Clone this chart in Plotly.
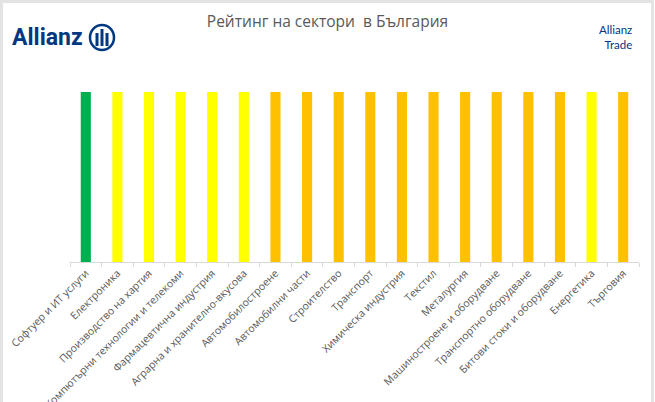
import plotly.graph_objects as go

# Sector names and their risk ratings
sectors = [
    "Софтуер и ИТ услуги",
    "Електроника",
    "Производство на хартия",
    "Компютърни технологии и телекоми",
    "Фармацевтична индустрия",
    "Аграрна и хранително-вкусова",
    "Автомобилостроене",
    "Автомобилни части",
    "Строителство",
    "Транспорт",
    "Химическа индустрия",
    "Текстил",
    "Металургия",
    "Машиностроене и оборудване",
    "Транспортно оборудване",
    "Битови стоки и оборудване",
    "Енергетика",
    "Търговия",
]
ratings = [
    "low", "medium", "medium", "medium", "medium", "medium",
    "high", "high", "high", "high", "high", "high",
    "high", "high", "high", "high", "medium", "high",
]
bar_values = [1] * len(sectors)

rating_colors = {"low": "#00B050", "medium": "#FFFF00", "high": "#FFC000"}

W, H = 655, 402
L, R, T, B = 70, 16, 92, 140
pw, ph = W - L - R, H - T - B


# pixel -> paper helpers for the decoration
def px(x):
    return (x - L) / pw


def py(y):
    return (H - B - y) / ph


fig = go.Figure(go.Bar(
    x=sectors,
    y=bar_values,
    marker=dict(color=[rating_colors[r] for r in ratings], line=dict(width=0)),
    hoverinfo="x",
))

shapes = [
    # outer frame
    dict(type="rect", xref="paper", yref="paper",
         x0=px(1.5), x1=px(652.5), y0=py(420), y1=py(1.5),
         line=dict(color="#e3e3e3", width=3), fillcolor="white", layer="below"),
    # Allianz logo circle
    dict(type="circle", xref="paper", yref="paper",
         x0=px(90), x1=px(114), y0=py(50), y1=py(25),
         line=dict(color="#003781", width=2.5)),
]
# three bars inside logo
for x0, x1, y0, y1 in [(95.5, 98.5, 46, 33), (100.5, 103.5, 46, 29), (105.5, 108.5, 46, 33)]:
    shapes.append(dict(type="rect", xref="paper", yref="paper",
                       x0=px(x0), x1=px(x1), y0=py(y0), y1=py(y1),
                       line=dict(width=0), fillcolor="#003781"))

annotations = [
    dict(text="Allianz", xref="paper", yref="paper", x=px(10), y=py(37.5),
         xanchor="left", yanchor="middle", showarrow=False,
         font=dict(family="Roboto", size=23, color="#003781", weight="bold")),
    dict(text="Allianz<br>Trade", xref="paper", yref="paper", x=px(634), y=py(37),
         xanchor="right", yanchor="middle", align="right", showarrow=False,
         font=dict(family="Lato", size=11.5, color="#003781")),
]

fig.update_layout(
    width=W,
    height=H,
    margin=dict(l=L, r=R, t=T, b=B, autoexpand=False),
    paper_bgcolor="white",
    plot_bgcolor="rgba(0,0,0,0)",
    title=dict(text="Рейтинг на сектори  в България", x=0.5, xref="container",
               xanchor="center", y=1 - 22 / H, yanchor="middle",
               font=dict(family="Open Sans", size=15.5, color="#595959")),
    bargap=0.68,
    showlegend=False,
    shapes=shapes,
    annotations=annotations,
)
fig.update_xaxes(
    automargin=False,
    tickangle=-45,
    tickfont=dict(family="Open Sans", size=10.5, color="#595959"),
    showline=True, linecolor="#d9d9d9", linewidth=1,
    ticks="outside", tickson="boundaries", ticklen=4, tickcolor="#d9d9d9",
    showgrid=False,
)
fig.update_yaxes(visible=False, range=[0, 1], showgrid=False, automargin=False)

# drop the default page margin so the figure sits at the window corner
fig.write_html("out.html", config={"displayModeBar": False},
               post_script="document.body.style.margin='0';")
